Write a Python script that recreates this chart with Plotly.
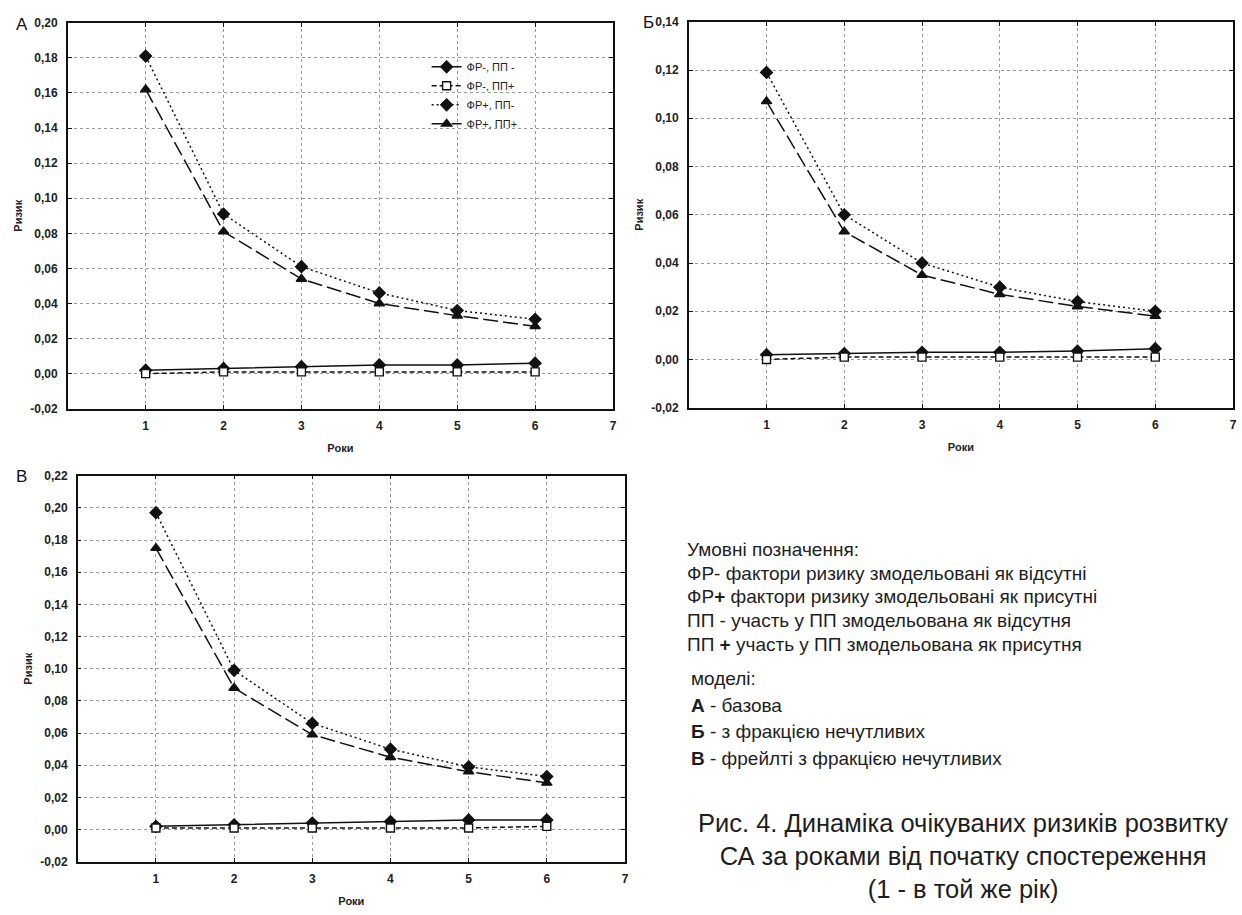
import plotly.graph_objects as go

W, H = 1242, 915

years = [1, 2, 3, 4, 5, 6]
series_names = ["ФР-, ПП -", "ФР-, ПП+", "ФР+, ПП-", "ФР+, ПП+"]

# Panel А - базова
a_frm_ppm = [0.002, 0.003, 0.004, 0.005, 0.005, 0.006]
a_frm_ppp = [0.000, 0.001, 0.001, 0.001, 0.001, 0.001]
a_frp_ppm = [0.181, 0.091, 0.061, 0.046, 0.036, 0.031]
a_frp_ppp = [0.162, 0.081, 0.054, 0.040, 0.033, 0.027]

# Panel Б - з фракцією нечутливих
b_frm_ppm = [0.002, 0.0025, 0.003, 0.003, 0.0035, 0.0045]
b_frm_ppp = [0.000, 0.001, 0.001, 0.001, 0.001, 0.001]
b_frp_ppm = [0.119, 0.060, 0.040, 0.030, 0.024, 0.020]
b_frp_ppp = [0.107, 0.053, 0.035, 0.027, 0.022, 0.018]

# Panel В - фрейлті з фракцією нечутливих
v_frm_ppm = [0.002, 0.003, 0.004, 0.005, 0.006, 0.006]
v_frm_ppp = [0.001, 0.001, 0.001, 0.001, 0.001, 0.002]
v_frp_ppm = [0.197, 0.099, 0.066, 0.050, 0.039, 0.033]
v_frp_ppp = [0.175, 0.088, 0.059, 0.045, 0.036, 0.029]

x_ticks = [1, 2, 3, 4, 5, 6, 7]
x_ticklabels = ["1", "2", "3", "4", "5", "6", "7"]
a_yticks = [-0.02, 0.0, 0.02, 0.04, 0.06, 0.08, 0.10, 0.12, 0.14, 0.16, 0.18, 0.20]
a_ylabels = ["-0,02", "0,00", "0,02", "0,04", "0,06", "0,08", "0,10", "0,12", "0,14", "0,16", "0,18", "0,20"]
b_yticks = [-0.02, 0.0, 0.02, 0.04, 0.06, 0.08, 0.10, 0.12, 0.14]
b_ylabels = ["-0,02", "0,00", "0,02", "0,04", "0,06", "0,08", "0,10", "0,12", "0,14"]
v_yticks = [-0.02, 0.0, 0.02, 0.04, 0.06, 0.08, 0.10, 0.12, 0.14, 0.16, 0.18, 0.20, 0.22]
v_ylabels = ["-0,02", "0,00", "0,02", "0,04", "0,06", "0,08", "0,10", "0,12", "0,14", "0,16", "0,18", "0,20", "0,22"]

panel_labels = ["А", "Б", "В"]
x_title = "Роки"
y_title = "Ризик"

legend_lines = [
    "Умовні позначення:",
    "ФР- фактори ризику змодельовані як відсутні",
    "ФР<b>+</b> фактори ризику змодельовані як присутні",
    "ПП - участь у ПП змодельована як відсутня",
    "ПП <b>+</b> участь у ПП змодельована як присутня",
]
model_lines = [
    "моделі:",
    "<b>А</b> - базова",
    "<b>Б</b> - з фракцією нечутливих",
    "<b>В</b> - фрейлті з фракцією нечутливих",
]
caption = "Рис. 4. Динаміка очікуваних ризиків розвитку<br>СА за роками від початку спостереження<br>(1 - в той же рік)"

INK = "#111111"
styles = [
    dict(dash="solid", symbol="diamond", fill=INK, size=9),
    dict(dash="5px,3px", symbol="square", fill="white", size=8),
    dict(dash="2px,3px", symbol="diamond", fill=INK, size=9),
    dict(dash="15px,5px", symbol="triangle-up", fill=INK, size=9),
]

panels = [
    dict(data=[a_frm_ppm, a_frm_ppp, a_frp_ppm, a_frp_ppp], yt=a_yticks, yl=a_ylabels,
         xd=[68 / W, 615 / W], yd=[1 - 408 / H, 1 - 16 / H]),
    dict(data=[b_frm_ppm, b_frm_ppp, b_frp_ppm, b_frp_ppp], yt=b_yticks, yl=b_ylabels,
         xd=[691 / W, 1237 / W], yd=[1 - 407 / H, 1 - 15 / H]),
    dict(data=[v_frm_ppm, v_frm_ppp, v_frp_ppm, v_frp_ppp], yt=v_yticks, yl=v_ylabels,
         xd=[78 / W, 627 / W], yd=[1 - 868 / H, 1 - 476 / H]),
]

fig = go.Figure()
layout_axes = {}
for p_i, p in enumerate(panels):
    sfx = "" if p_i == 0 else str(p_i + 1)
    for s_i, vals in enumerate(p["data"]):
        st = styles[s_i]
        fig.add_trace(go.Scatter(
            x=years, y=vals, name=series_names[s_i],
            xaxis="x" + sfx, yaxis="y" + sfx,
            mode="lines+markers",
            line=dict(color=INK, width=1.5, dash=st["dash"]),
            marker=dict(symbol=st["symbol"], size=st["size"], color=st["fill"],
                        line=dict(color=INK, width=1.4)),
            showlegend=(p_i == 0), legendgroup=series_names[s_i],
        ))
    common = dict(showline=True, linecolor=INK, linewidth=1.5, mirror="ticks",
                  ticks="inside", ticklen=4, tickcolor=INK,
                  showgrid=True, gridcolor="#9a9a9a", griddash="dot", gridwidth=1,
                  zeroline=False,
                  tickfont=dict(family="Liberation Sans, Arial", size=12, color="#222", weight="bold"),
                  title_font=dict(family="Liberation Sans, Arial", size=11, color="#222", weight="bold"))
    layout_axes["xaxis" + sfx] = dict(
        common, domain=p["xd"], anchor="y" + sfx, range=[0, 7],
        tickvals=x_ticks, ticktext=x_ticklabels, ticklabelstandoff=5,
        title=dict(text=x_title, standoff=12))
    layout_axes["yaxis" + sfx] = dict(
        common, domain=p["yd"], anchor="x" + sfx,
        range=[p["yt"][0], p["yt"][-1]],
        tickvals=p["yt"], ticktext=p["yl"], ticklabelstandoff=6,
        title=dict(text=y_title, standoff=5))

fig.update_layout(**layout_axes)

ann = []
panel_pos = [(14, 18), (643, 16), (14, 477)]
for lbl, (px, py) in zip(panel_labels, panel_pos):
    ann.append(dict(text=lbl, x=px / W, y=1 - py / H, xref="paper", yref="paper",
                    xanchor="left", yanchor="middle", showarrow=False,
                    font=dict(family="Liberation Sans, Arial", size=17, color=INK)))

text_font = dict(family="Liberation Sans, Arial", size=19, color="#1e1e1e")
legend_y = [551, 575, 599, 623, 647]
for t, yy in zip(legend_lines, legend_y):
    ann.append(dict(text=t, x=687 / W, y=1 - yy / H, xref="paper", yref="paper",
                    xanchor="left", yanchor="middle", showarrow=False, font=text_font))
model_y = [682, 709, 736, 763]
for t, yy in zip(model_lines, model_y):
    ann.append(dict(text=t, x=691 / W, y=1 - yy / H, xref="paper", yref="paper",
                    xanchor="left", yanchor="middle", showarrow=False, font=text_font))
ann.append(dict(text=caption, x=966 / W, y=1 - 862 / H, xref="paper", yref="paper",
                xanchor="center", yanchor="middle", align="center", showarrow=False,
                font=dict(family="Liberation Sans, Arial", size=25.5, color="#1e1e1e")))

fig.update_layout(
    width=W, height=H, margin=dict(l=0, r=0, t=0, b=0),
    paper_bgcolor="white", plot_bgcolor="white",
    annotations=ann,
    legend=dict(x=428 / W, y=1 - 46 / H, xanchor="left", yanchor="top",
                bgcolor="rgba(0,0,0,0)", itemwidth=30, tracegroupgap=0,
                font=dict(family="Liberation Sans, Arial", size=11, color="#222")),
)

fig.write_html("out.html")
